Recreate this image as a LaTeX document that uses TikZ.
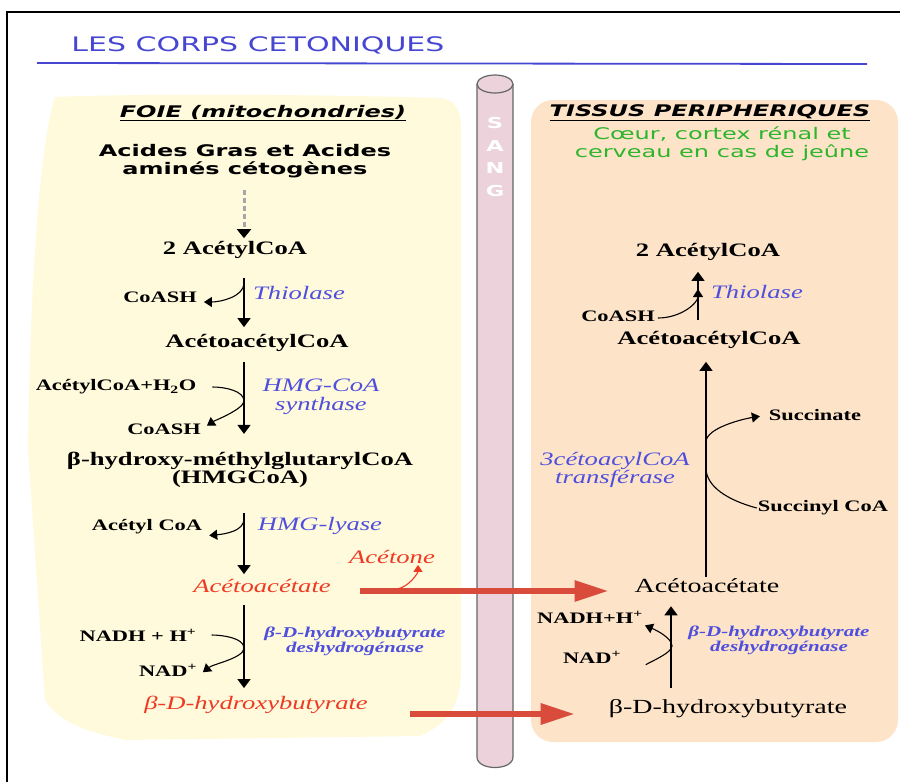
\documentclass[tikz,border=0pt]{standalone}
\usepackage{fontspec}
\usetikzlibrary{arrows.meta}
\newfontfamily\timesw[FakeStretch=1.4]{Liberation Serif}
\newfontfamily\comicw[FakeStretch=1.5]{DejaVu Sans}
\definecolor{foiebg}{HTML}{FFFADC}
\definecolor{tissubg}{HTML}{FDE3C8}
\definecolor{sangbg}{HTML}{ECD2DB}
\definecolor{enzblue}{HTML}{4F4FDD}
\definecolor{titleblue}{HTML}{4646D2}
\definecolor{cetored}{HTML}{EE3A24}
\definecolor{bigred}{HTML}{D94B3B}
\definecolor{greentxt}{HTML}{2DB52D}

\begin{document}
\begin{tikzpicture}[x=1pt, y=-1pt,
    cpd/.style     = {font=\timesw\bfseries\fontsize{19}{16}\selectfont, inner sep=1pt, align=center},
    cpdn/.style    = {font=\timesw\fontsize{20}{16}\selectfont, inner sep=1pt},
    cofac/.style   = {font=\timesw\bfseries\fontsize{16}{16}\selectfont, inner sep=1pt},
    enz/.style     = {font=\timesw\itshape\fontsize{19}{16}\selectfont, text=enzblue, inner sep=1pt, align=center},
    enzs/.style    = {font=\timesw\bfseries\itshape\fontsize{15}{11}\selectfont, text=enzblue, inner sep=1pt, align=center},
    ketone/.style  = {font=\timesw\itshape\fontsize{19}{16}\selectfont, text=cetored, inner sep=1pt},
    comic/.style   = {font=\comicw\fontsize{16}{18}\selectfont, inner sep=1pt, align=center},
    react/.style   = {line width=1.5pt, -{Triangle[length=9pt, width=13pt]}},
    sidearr/.style = {line width=1.1pt, -{Triangle[length=8pt, width=10pt]}},
    bigarr/.style  = {line width=6pt, draw=bigred, -{Triangle[length=34pt, width=20pt]}}]
  \useasboundingbox (0,0) rectangle (900,782);

  % fonds
  \fill[foiebg] (55,97) .. controls (150,93) and (350,95) .. (440,98)
    .. controls (456,100) and (461,110) .. (461,130) -- (461,670)
    .. controls (461,700) and (452,722) .. (420,736) -- (125,740)
    .. controls (80,730) and (60,722) .. (45,700) -- (28,450)
    .. controls (30,300) and (38,150) .. (55,97) -- cycle;
  \fill[tissubg, rounded corners=22pt] (531,100) rectangle (898,742);

  % sang
  \filldraw[fill=sangbg, draw=black!60, line width=1.2pt] (477,84) -- (477,757)
    .. controls (477,771) and (513,771) .. (513,757) -- (513,84);
  \filldraw[fill=sangbg, draw=black!60, line width=1.2pt] (495,84) ellipse [x radius=18, y radius=9];
  \node[comic, text=white, font=\comicw\bfseries\fontsize{15}{22.5}\selectfont] (sang) at (495,157) {S\\A\\N\\G};

  % cadre et titre
  \draw[line width=2pt] (7,782) -- (7,12) -- (900,12);
  \node[comic, text=titleblue, font=\comicw\fontsize{20}{20}\selectfont] (titre) at (258,45) {LES CORPS CETONIQUES};
  \coordinate (ulA) at (37,63);
  \coordinate (ulB) at (867,64);
  \draw[titleblue, line width=1.8pt] (ulA) -- (ulB);

  % foie
  \node[comic, font=\comicw\bfseries\itshape\fontsize{16}{18}\selectfont] (foie) at (263,113) {\underline{FOIE (mitochondries)}};
  \node[comic, font=\comicw\bfseries\fontsize{16}{18}\selectfont] (acides) at (245,161) {Acides Gras et Acides\\aminés cétogènes};
  \node[cpd] (acetylL) at (235,250) {2 AcétylCoA};
  \node[cpd] (acetoacetylL) at (257,343) {AcétoacétylCoA};
  \node[cpd] (hmg) at (240,470) {β-hydroxy-méthylglutarylCoA\\(HMGCoA)};
  \node[ketone] (acetoacL) at (262,586) {Acétoacétate};
  \node[ketone] (hbL) at (256,705) {β-D-hydroxybutyrate};
  \node[ketone] (acetone) at (392,557) {Acétone};

  \node[cofac] (coashL) at (160,297) {CoASH};
  \node[cofac] (acoah) at (116,387) {AcétylCoA+H\textsubscript{2}O};
  \node[cofac] (coashM) at (164,429) {CoASH};
  \node[cofac] (acetylcoa) at (147,527) {Acétyl CoA};
  \node[cofac] (nadhL) at (138,635) {NADH + H\textsuperscript{+}};
  \node[cofac] (nadL) at (168,670) {NAD\textsuperscript{+}};

  \node[enz] (thioL) at (299,293) {Thiolase};
  \node[enz, font=\timesw\itshape\fontsize{19}{18.5}\selectfont] (hmgsyn) at (321,397) {HMG-CoA\\synthase};
  \node[enz] (hmglyase) at (320,526) {HMG-lyase};
  \node[enzs] (bdhL) at (355,641) {β-D-hydroxybutyrate\\deshydrogénase};

  \coordinate (colL) at (244,0);
  \draw[line width=3pt, dash pattern=on 5pt off 3pt, black!35, -{Triangle[length=9pt, width=14pt, black]}, shorten <=11pt, shorten >=2pt]
    (acides.south -| colL) -- (acetylL.north -| colL);
  \draw[react, shorten <=18pt, shorten >=6pt] (acetylL.south -| colL) -- (acetoacetylL.north -| colL);
  \draw[react, shorten <=9pt, shorten >=17pt] (acetoacetylL.south -| colL) -- (hmg.north -| colL);
  \draw[react, shorten <=24pt, shorten >=4pt] (hmg.south -| colL) -- (acetoacL.north -| colL);
  \draw[react, shorten <=11pt, shorten >=7pt] (acetoacL.south -| colL) -- (hbL.north -| colL);

  \coordinate (k1) at (244,283);
  \coordinate (k2) at (244,401);
  \coordinate (k3) at (244,519);
  \coordinate (k4) at (244,648);
  \draw[sidearr, shorten >=6pt] (k1) .. controls +(0,14) and +(22,0) .. ([yshift=-5pt]coashL.east);
  \draw[sidearr, shorten <=15pt, shorten >=6pt] (acoah.east) .. controls +(28,0) and +(0,-10) .. (k2)
    .. controls +(0,8) and +(12,-8) .. (coashM.east);
  \draw[sidearr, shorten >=6pt] (k3) .. controls +(0,12) and +(22,-2) .. ([yshift=-9pt]acetylcoa.east);
  \draw[sidearr, shorten <=14pt, shorten >=6pt] (nadhL.east) .. controls +(25,0) and +(0,-10) .. (k4)
    .. controls +(0,10) and +(15,-12) .. ([yshift=-6pt]nadL.east);

  % tissus peripheriques
  \node[comic, font=\comicw\bfseries\itshape\fontsize{16}{18}\selectfont] (tissus) at (710,113) {\underline{TISSUS PERIPHERIQUES}};
  \node[comic, text=greentxt] (coeur) at (722,144) {Cœur, cortex rénal et\\cerveau en cas de jeûne};
  \node[cpd] (acetylR) at (708,252) {2 AcétylCoA};
  \node[cpd] (acetoacetylR) at (709,340) {AcétoacétylCoA};
  \node[cpdn] (acetoacR) at (707,586) {Acétoacétate};
  \node[cpdn] (hbR) at (728,709) {β-D-hydroxybutyrate};

  \node[cofac] (coashR) at (618,316) {CoASH};
  \node[cofac] (succ) at (815,415) {Succinate};
  \node[cofac] (succoa) at (823,508) {Succinyl CoA};
  \node[cofac] (nadhR) at (590,617) {NADH+H\textsuperscript{+}};
  \node[cofac] (nadR) at (592,657) {NAD\textsuperscript{+}};

  \node[enz] (thioR) at (757,292) {Thiolase};
  \node[enz] (transf) at (615,470) {3cétoacylCoA\\transférase};
  \node[enzs] (bdhR) at (779,640) {β-D-hydroxybutyrate\\deshydrogénase};

  \coordinate (colR) at (698,0);
  \coordinate (colS) at (706,0);
  \coordinate (colT) at (671,0);
  \draw[react, shorten <=10pt, shorten >=10pt] (acetoacetylR.north -| colR) -- (acetylR.south -| colR);
  \draw[react, shorten <=1pt, shorten >=12pt] (acetoacR.north -| colS) -- (acetoacetylR.south -| colS);
  \draw[react, shorten <=11pt, shorten >=12pt] (hbR.north -| colT) -- (acetoacR.south -| colT);

  \coordinate (k5) at (698,289);
  \coordinate (k6) at (706,442);
  \coordinate (k7) at (706,468);
  \coordinate (k8) at (672,646);
  \draw[sidearr, shorten <=2pt] ([yshift=-2pt]coashR.east) .. controls +(25,0) and +(0,14) .. (k5);
  \draw[sidearr, shorten >=8pt] (k6) .. controls +(0,-14) and +(-25,4) .. (succ.west);
  \draw[line width=1.1pt] (k7) .. controls +(0,18) and +(-30,-8) .. (succoa.west);
  \draw[sidearr, shorten <=24pt, shorten >=1pt] ([yshift=-8pt]nadR.east) .. controls +(20,0) and +(0,8) .. (k8)
    .. controls +(0,-8) and +(12,5) .. ([yshift=-8pt]nadhR.east);

  % passage par le sang
  \coordinate (k9) at (397,589);
  \draw[bigarr, shorten <=28pt, shorten >=25pt] ([yshift=-5pt]acetoacL.east) -- ([yshift=-5pt]acetoacR.west);
  \draw[bigarr, shorten <=41pt, shorten >=33pt] ([yshift=-9pt]hbL.east) -- ([yshift=-5pt]hbR.west);
  \draw[cetored, line width=1.1pt, -{Triangle[length=7pt, width=9pt]}] (k9) .. controls +(12,-2) and +(0,8) .. ([xshift=26pt]acetone.south);
\end{tikzpicture}
\end{document}
